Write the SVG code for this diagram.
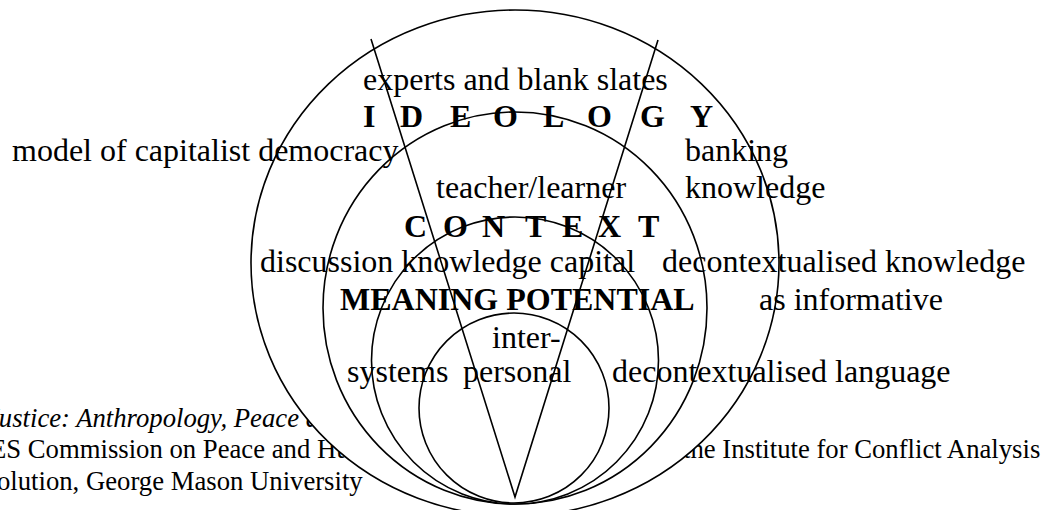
<svg xmlns="http://www.w3.org/2000/svg" width="1051" height="510" viewBox="0 0 1051 510">
  <style>
    text { font-family: "Liberation Serif", "Times New Roman", serif; fill: #000; }
    .lbl { font-size: 32px; }
    .head { font-size: 32px; font-weight: bold; }
    .ref { font-size: 26.7px; }
    .ring { fill: #fff; stroke: #000; stroke-width: 1.6; }
    .edge { fill: none; stroke: #000; stroke-width: 1.6; }
  </style>

  <rect width="1051" height="510" fill="#fff"/>

  <!-- citation lines lying behind the rings -->
  <g id="citation">
    <text class="ref" x="-13" y="427" font-style="italic">Justice: Anthropology, Peace a</text>
    <text class="ref" x="-10" y="458">ES Commission on Peace and Hu</text>
    <text class="ref" x="683" y="458">the Institute for Conflict Analysis</text>
    <text class="ref" x="-3" y="490">olution, George Mason University</text>
  </g>

  <!-- nested rings, outermost first -->
  <g id="ideology">
    <ellipse class="ring" cx="515" cy="263" rx="264" ry="253"/>
  </g>
  <g id="context">
    <ellipse class="ring" cx="515" cy="308" rx="192" ry="196"/>
  </g>
  <g id="meaning-potential">
    <circle class="ring" cx="515" cy="360.5" r="143.5"/>
  </g>
  <g id="interpersonal">
    <circle class="ring" cx="514" cy="408" r="95"/>
  </g>

  <!-- wedge narrowing to the shared point at the bottom -->
  <g id="connectors">
    <path class="edge" d="M371 39 L515 497 L658 40"/>
  </g>

  <!-- labels -->
  <g id="ideology-labels">
    <text class="lbl" x="363" y="90">experts and blank slates</text>
    <text class="head" x="363 400 450 493 543 587 640 690" y="127">IDEOLOGY</text>
    <text class="lbl" x="12" y="161">model of capitalist democracy</text>
    <text class="lbl" x="685" y="161">banking</text>
    <text class="lbl" x="685" y="198">knowledge</text>
  </g>
  <g id="context-labels">
    <text class="lbl" x="436" y="198">teacher/learner</text>
    <text class="head" x="404 443 482 525 562 598 638" y="237">CONTEXT</text>
    <text class="lbl" x="260" y="272">discussion knowledge capital</text>
    <text class="lbl" x="662" y="272">decontextualised knowledge</text>
  </g>
  <g id="meaning-labels">
    <text class="head" x="340" y="310">MEANING POTENTIAL</text>
    <text class="lbl" x="759" y="310">as informative</text>
  </g>
  <g id="interpersonal-labels">
    <text class="lbl" x="492" y="348">inter-</text>
    <text class="lbl" x="347" y="382">systems</text>
    <text class="lbl" x="463" y="382">personal</text>
    <text class="lbl" x="612" y="382">decontextualised language</text>
  </g>
</svg>
